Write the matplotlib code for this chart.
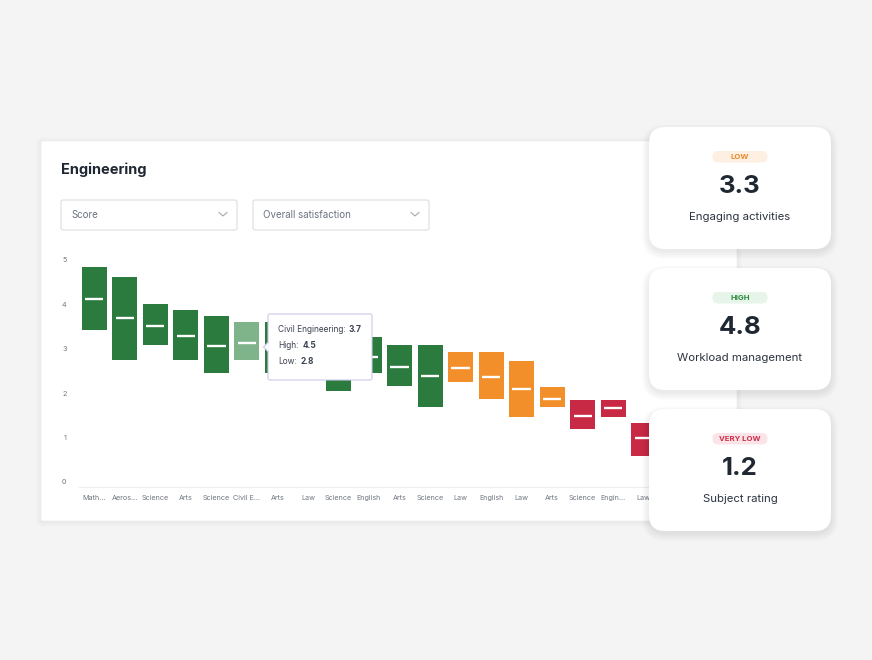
import matplotlib.pyplot as plt
from matplotlib.patches import FancyBboxPatch, Polygon

plt.rcParams['font.family'] = ['Inter', 'DejaVu Sans']

# Chart data
categories = ["Math...", "Aeros...", "Science", "Arts", "Science", "Civil E...", "Arts",
              "Law", "Science", "English", "Arts", "Science", "Law", "English", "Law",
              "Arts", "Science", "Engin...", "Law"]
high = [4.84, 4.62, 4.00, 3.87, 3.75, 3.60, 3.60, 3.45, 3.30, 3.26, 3.08, 3.08,
        2.93, 2.93, 2.73, 2.15, 1.85, 1.85, 1.34]
low = [3.42, 2.75, 3.08, 2.75, 2.45, 2.75, 2.45, 2.80, 2.04, 2.45, 2.16, 1.68,
       2.25, 1.86, 1.46, 1.68, 1.19, 1.46, 0.59]
median = [4.13, 3.69, 3.52, 3.28, 3.06, 3.12, 3.00, 3.05, 2.85, 2.82, 2.60, 2.38,
          2.57, 2.36, 2.10, 1.88, 1.49, 1.66, 0.98]
bands = ["good"] * 12 + ["mid"] * 4 + ["bad"] * 3
hovered = 5

tooltip_name = "Civil Engineering"
tooltip_value = "3.7"
tooltip_high = "4.5"
tooltip_low = "2.8"

card_badges = ["LOW", "HIGH", "VERY LOW"]
card_values = ["3.3", "4.8", "1.2"]
card_labels = ["Engaging activities", "Workload management", "Subject rating"]

band_colors = {"good": "#2a7b3d", "mid": "#f28f2b", "bad": "#c82a45"}
badge_style = {"LOW": ("#fdefe2", "#ef8a2c"),
               "HIGH": ("#e6f4e9", "#2b8a3e"),
               "VERY LOW": ("#fbe4e8", "#cf2f4b")}

W, H = 872, 660
fig = plt.figure(figsize=(W / 100, H / 100), dpi=100)
fig.patch.set_facecolor("#f4f4f4")


def px_axes(z):
    a = fig.add_axes([0, 0, 1, 1], zorder=z)
    a.set_xlim(0, W)
    a.set_ylim(H, 0)
    a.axis("off")
    a.patch.set_alpha(0)
    return a


def rounded(ax, x0, y0, x1, y1, r, **kw):
    p = FancyBboxPatch((x0 + r, y0 + r), x1 - x0 - 2 * r, y1 - y0 - 2 * r,
                       boxstyle=f"round,pad={r}", **kw)
    ax.add_patch(p)
    return p


# background card
bg = px_axes(0)
for i in range(6):
    rounded(bg, 41 - i, 141 - i + 1, 737 + i, 521 + i + 1, 2 + i,
            facecolor="black", edgecolor="none", alpha=0.006)
rounded(bg, 41, 141, 737, 521, 2, facecolor="white", edgecolor="#eeeeee", lw=0.5)
bg.text(61, 170, "Engineering", fontsize=10.5, fontweight="bold", color="#1f2733",
        va="center", ha="left")
for x0, x1, label in [(61, 237, "Score"), (253, 429, "Overall satisfaction")]:
    rounded(bg, x0, 200, x1, 230, 2, facecolor="white", edgecolor="#dadde1", lw=0.8)
    bg.text(x0 + 10, 215, label, fontsize=7, color="#6b7280", va="center")
    cx = x1 - 14
    bg.plot([cx - 4, cx, cx + 4], [212.5, 216, 212.5], color="#9aa0a8", lw=0.7)

# chart
y_unit = 44.4
y0_px = 482
ax_bottom_px, ax_top_px = 487, 260
ymin = -(ax_bottom_px - y0_px) / y_unit
ymax = (y0_px - ax_top_px) / y_unit
ax = fig.add_axes([79 / W, (H - ax_bottom_px) / H, 580 / W,
                   (ax_bottom_px - ax_top_px) / H], zorder=1)
ax.patch.set_alpha(0)
xs = list(range(len(categories)))
colors = []
for i, b in enumerate(bands):
    c = band_colors[b]
    colors.append("#7fb48a" if i == hovered else c)
heights = [h - l for h, l in zip(high, low)]
ax.bar(xs, heights, bottom=low, width=0.82, color=colors, edgecolor="none")
ax.hlines(median, [x - 0.3 for x in xs], [x + 0.3 for x in xs], color="white", lw=1.7)
ax.set_xlim(-0.5, len(categories) - 0.5)
ax.set_ylim(ymin, ymax)
ax.set_xticks(xs)
ax.set_xticklabels(categories, fontsize=5.2, color="#6f7680")
ax.set_yticks([0, 1, 2, 3, 4, 5])
ax.tick_params(axis="both", length=0, labelsize=5.2, labelcolor="#6f7680")
ax.tick_params(axis="y", pad=9)
ax.tick_params(axis="x", pad=6)
for s in ["top", "right", "left"]:
    ax.spines[s].set_visible(False)
ax.spines["bottom"].set_color("#eceef0")
ax.spines["bottom"].set_linewidth(0.8)

# overlay: tooltip and cards
ov = px_axes(3)
rounded(ov, 268, 314, 372, 380, 2, facecolor="white", edgecolor="#cdc8ea", lw=0.8)
ov.add_patch(Polygon([[268.6, 342], [263.5, 347], [268.6, 352]], closed=True,
                     facecolor="white", edgecolor="none"))
ov.plot([268.4, 263.5, 268.4], [342, 347, 352], color="#cdc8ea", lw=0.8)
tip = dict(fontsize=6, color="#3a4150", va="center")
ov.text(278, 330, tooltip_name + ":", **tip)
ov.text(349, 330, tooltip_value, fontweight="bold", **tip)
ov.text(278, 346, "High:", **tip)
ov.text(303, 346, tooltip_high, fontweight="bold", **tip)
ov.text(278, 362, "Low:", **tip)
ov.text(301, 362, tooltip_low, fontweight="bold", **tip)

card_tops = [127, 268, 409]
for top, badge, val, lab in zip(card_tops, card_badges, card_values, card_labels):
    x0, x1, y1 = 649, 831, top + 122
    for i in range(10):
        rounded(ov, x0 - i * 0.8, top - i * 0.6 + 3, x1 + i * 0.8, y1 + i * 0.8 + 3,
                16 + i * 0.8, facecolor="black", edgecolor="none", alpha=0.009)
    rounded(ov, x0, top, x1, y1, 16, facecolor="white", edgecolor="none")
    bgc, fgc = badge_style[badge]
    cx = (x0 + x1) / 2
    rounded(ov, cx - 27.5, top + 24, cx + 27.5, top + 35.5, 5.5, facecolor=bgc,
            edgecolor="none")
    ov.text(cx, top + 30, badge, fontsize=5.6, fontweight="bold", color=fgc,
            ha="center", va="center")
    ov.text(cx, top + 59.5, val, fontsize=18.5, fontweight="bold", color="#1f2733",
            ha="center", va="center")
    ov.text(cx, top + 90, lab, fontsize=8.2, color="#2c3340", ha="center", va="center")

fig.savefig("out.png", dpi=100, facecolor=fig.get_facecolor())
